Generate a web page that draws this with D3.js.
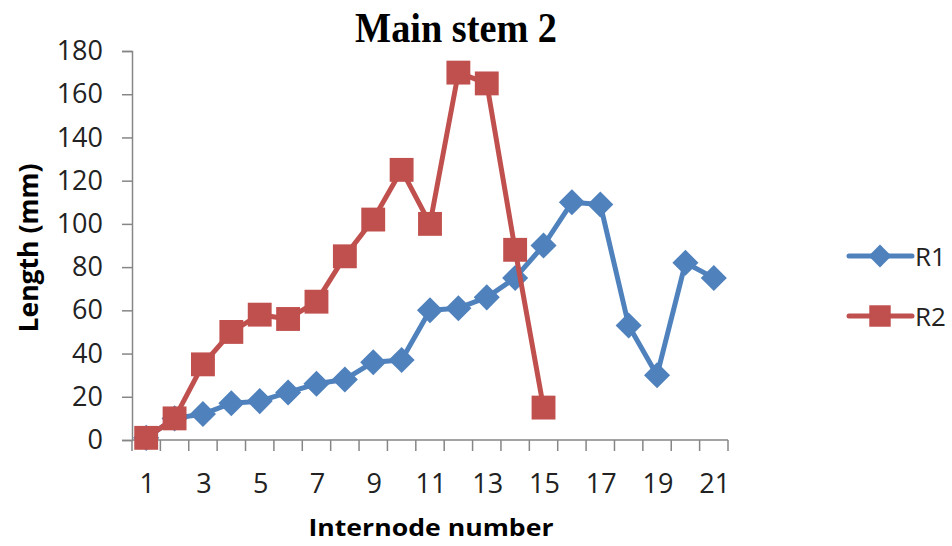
<!DOCTYPE html>
<html>
<head>
<meta charset="utf-8">
<script src="https://cdn.jsdelivr.net/npm/d3@7"></script>
<style>
  html, body { margin: 0; padding: 0; background: #fff; }
  svg { display: block; }
</style>
</head>
<body>
<svg id="chart" width="952" height="546"></svg>
<script>
// Internode lengths along main stem 2
const internodes = d3.range(1, 22);
const r1Values = [1, 10, 12, 17, 18, 22, 26, 28, 36, 37, 60, 61, 66, 75, 90, 110, 109, 53, 30, 82, 75];
const r2Values = [1, 10, 35, 50, 58, 56, 64, 85, 102, 125, 100, 170, 165, 88, 15];
const yTicks = [0, 20, 40, 60, 80, 100, 120, 140, 160, 180];
const xTickLabels = [1, 3, 5, 7, 9, 11, 13, 15, 17, 19, 21];
const seriesNames = ["R1", "R2"];
const colors = { R1: "#4F81BD", R2: "#C0504D" };

const svg = d3.select("#chart");
const plot = { left: 132, right: 728, top: 51, bottom: 440 };

const x = d3.scaleBand().domain(internodes).range([plot.left, plot.right]);
const y = d3.scaleLinear().domain([0, 180]).range([plot.bottom, plot.top]);

const tickFont = "'Open Sans', 'Noto Sans', sans-serif";
const tickSize = 27;

// Y axis
const yAxis = svg.append("g")
  .attr("transform", `translate(${plot.left},0)`)
  .call(d3.axisLeft(y).tickValues(yTicks).tickSize(10).tickPadding(19));
yAxis.select(".domain").attr("stroke", "#868686").attr("stroke-width", 1.5);
yAxis.selectAll(".tick line").attr("stroke", "#868686").attr("stroke-width", 1.5);
yAxis.selectAll(".tick text")
  .attr("font-family", tickFont).attr("font-size", tickSize).attr("fill", "#222");

// X axis: tick marks on category boundaries, labels on odd categories
const xAxisG = svg.append("g").attr("transform", `translate(0,${plot.bottom})`);
xAxisG.append("line")
  .attr("x1", plot.left).attr("x2", plot.right)
  .attr("stroke", "#868686").attr("stroke-width", 1.5);
const boundaries = internodes.map(d => x(d)).concat([x(internodes[internodes.length - 1]) + x.bandwidth()]);
xAxisG.selectAll("line.tick").data(boundaries).join("line")
  .attr("class", "tick")
  .attr("x1", d => d).attr("x2", d => d)
  .attr("y1", 0).attr("y2", 11)
  .attr("stroke", "#868686").attr("stroke-width", 1.5);
xAxisG.selectAll("text").data(xTickLabels).join("text")
  .attr("x", d => x(d) + x.bandwidth() / 2 + 1)
  .attr("y", 53)
  .attr("text-anchor", "middle")
  .attr("font-family", tickFont).attr("font-size", tickSize).attr("fill", "#222")
  .text(d => d);

// Series lines and markers
const cx = d => x(d.i) + x.bandwidth() / 2;
const line = d3.line().x(cx).y(d => y(d.v));
const r1 = r1Values.map((v, k) => ({ i: internodes[k], v }));
const r2 = r2Values.map((v, k) => ({ i: internodes[k], v }));

function drawSeries(data, color, shape) {
  svg.append("path").datum(data)
    .attr("d", line).attr("fill", "none")
    .attr("stroke", color).attr("stroke-width", 5)
    .attr("stroke-linejoin", "round");
  const sym = shape === "diamond"
    ? d3.symbol().type(d3.symbolSquare).size(340)
    : d3.symbol().type(d3.symbolSquare).size(570);
  svg.append("g").selectAll("path").data(data).join("path")
    .attr("d", sym)
    .attr("transform", d => `translate(${cx(d)},${y(d.v)})` + (shape === "diamond" ? " rotate(45)" : ""))
    .attr("fill", color);
}
drawSeries(r1, colors.R1, "diamond");
drawSeries(r2, colors.R2, "square");

// Legend
const legend = svg.append("g");
seriesNames.forEach((name, k) => {
  const ly = 256 + k * 60;
  const g = legend.append("g").attr("transform", `translate(0,${ly})`);
  g.append("line").attr("x1", 849).attr("x2", 912)
    .attr("stroke", colors[name]).attr("stroke-width", 5).attr("stroke-linecap", "round");
  g.append("path")
    .attr("d", name === "R1" ? d3.symbol().type(d3.symbolSquare).size(260)() : d3.symbol().type(d3.symbolSquare).size(460)())
    .attr("transform", `translate(880,0)` + (name === "R1" ? " rotate(45)" : ""))
    .attr("fill", colors[name]);
  g.append("text").attr("x", 915).attr("y", 10)
    .attr("font-family", tickFont).attr("font-size", 26).attr("fill", "#222")
    .text(name);
});

// Titles
svg.append("text")
  .attr("x", 456).attr("y", 42)
  .attr("text-anchor", "middle")
  .attr("font-family", "'Liberation Serif', 'Times New Roman', serif")
  .attr("font-weight", "bold").attr("font-size", 42).attr("fill", "#000")
  .attr("textLength", 202).attr("lengthAdjust", "spacingAndGlyphs")
  .text("Main stem 2");

svg.append("text")
  .attr("transform", "translate(38,248) rotate(-90)")
  .attr("text-anchor", "middle")
  .attr("font-family", tickFont)
  .attr("font-weight", "bold").attr("font-size", 26).attr("fill", "#000")
  .attr("textLength", 169).attr("lengthAdjust", "spacingAndGlyphs")
  .text("Length (mm)");

svg.append("text")
  .attr("x", 431).attr("y", 536)
  .attr("text-anchor", "middle")
  .attr("font-family", tickFont)
  .attr("font-weight", "bold").attr("font-size", 24).attr("fill", "#000")
  .attr("textLength", 245).attr("lengthAdjust", "spacingAndGlyphs")
  .text("Internode number");
</script>
</body>
</html>
